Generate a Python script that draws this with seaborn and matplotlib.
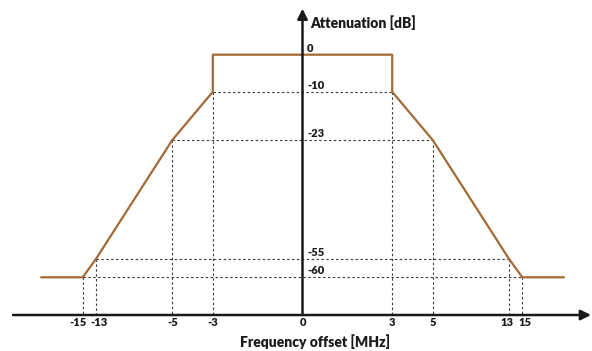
import numpy as np
import pandas as pd
import matplotlib
matplotlib.use("Agg")
import matplotlib.pyplot as plt
import seaborn as sns

# ---- data ----
mask_freq = [-20, -15, -13, -5, -3, -3, 3, 3, 5, 13, 15, 20]
mask_att = [-60, -60, -55, -23, -10, 0, 0, -10, -23, -55, -60, -60]
corner_freqs = [3, 5, 13, 15]
corner_atts = [-10, -23, -55, -60]
x_tick_values = [-15, -13, -5, -3, 0, 3, 5, 13, 15]
x_tick_labels = ["-15", "-13", "-5", "-3", "0", "3", "5", "13", "15"]
y_level_values = [0, -10, -23, -55, -60]
y_level_labels = ["0", "-10", "-23", "-55", "-60"]
x_title = "Frequency offset [MHz]"
y_title = "Attenuation [dB]"

# ---- style ----
sns.set_theme(style="white")
plt.rcParams["font.family"] = ["Lato", "DejaVu Sans"]
MASK_COLOR = "#A46A36"
AXIS_COLOR = "#1a1a1a"
GUIDE_COLOR = "#3a3a3a"

# schematic (non-linear) frequency scale of the drawing
KX = np.array([-40, -20, -15, -13, -5, -3, 0, 3, 5, 13, 15, 20, 40], dtype=float)
KD = np.array([-427.4, -261.4, -219.8, -206.4, -130.2, -89.7, 0, 89.7, 130.2, 206.4, 219.8, 261.4, 427.4])


def fwd(x):
    return np.interp(x, KX, KD)


def inv(d):
    return np.interp(d, KD, KX)


fig = plt.figure(figsize=(5.92, 3.51), dpi=100)
ax = fig.add_axes([0, 0, 1, 1])
ax.set_xscale("function", functions=(fwd, inv))
ax.set_xlim(float(inv(-302.5)), float(inv(289.5)))
ax.set_ylim(-79.86, 14.74)
ax.axis("off")

AXIS_Y = -70.16

# guide lines
for f, a in zip(corner_freqs, corner_atts):
    ax.plot([-f, f], [a, a], ls=(0, (2.2, 2.2)), lw=0.8, color=GUIDE_COLOR, zorder=1)
    for s in (-f, f):
        ax.plot([s, s], [a, AXIS_Y], ls=(0, (2.2, 2.2)), lw=0.8, color=GUIDE_COLOR, zorder=1)

# mask line
df = pd.DataFrame({"freq": mask_freq, "att": mask_att})
sns.lineplot(data=df, x="freq", y="att", sort=False, estimator=None,
             color=MASK_COLOR, lw=1.6, ax=ax, zorder=3)
ax.axis("off")

# axes arrows
x_left = float(inv(-289.5))
x_tip = float(inv(288.5))
arrow = dict(arrowstyle="-|>,head_length=0.6,head_width=0.3", lw=1.8,
             color=AXIS_COLOR, shrinkA=0, shrinkB=0, mutation_scale=10)
ax.annotate("", xy=(x_tip, AXIS_Y), xytext=(x_left, AXIS_Y), arrowprops=arrow, zorder=4)
ax.annotate("", xy=(0, 12.4), xytext=(0, AXIS_Y), arrowprops=arrow, zorder=4)

# x tick labels
nudge = {"-15": -5, "-13": 2.5, "13": -1.5, "15": 2.5}
for v, lab in zip(x_tick_values, x_tick_labels):
    ax.annotate(lab, xy=(v, AXIS_Y), xytext=(nudge.get(lab, 0), -11),
                textcoords="offset pixels", ha="center", va="baseline",
                fontsize=8, fontweight="heavy", color=AXIS_COLOR)

# y level labels
for v, lab in zip(y_level_values, y_level_labels):
    ax.annotate(lab, xy=(0, v), xytext=(4.5, 3),
                textcoords="offset pixels", ha="left", va="baseline",
                fontsize=8, fontweight="heavy", color=AXIS_COLOR)

# titles
ax.annotate(y_title, xy=(0, 7.06), xytext=(7.5, 0), textcoords="offset pixels",
            ha="left", va="baseline", fontsize=10, fontweight="heavy", color=AXIS_COLOR)
ax.annotate(x_title, xy=(0, -78.8), xytext=(12, 0), textcoords="offset pixels",
            ha="center", va="baseline", fontsize=10, fontweight="heavy", color=AXIS_COLOR)

fig.savefig("out.png", dpi=100)
